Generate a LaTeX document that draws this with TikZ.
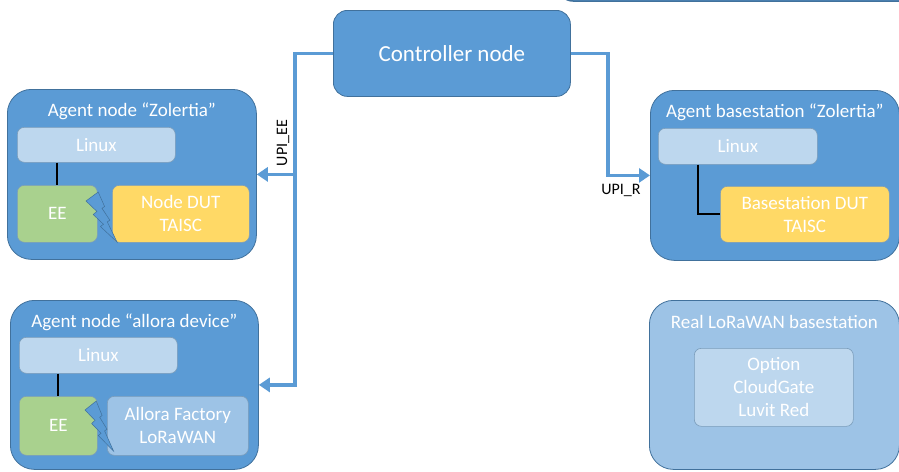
\documentclass[tikz,border=0pt]{standalone}
\usepackage{fontspec}
\setmainfont{Carlito}
\usetikzlibrary{arrows.meta,positioning}

\definecolor{boxblue}{HTML}{5B9BD5}
\definecolor{edgeblue}{HTML}{41719C}
\definecolor{paleblue}{HTML}{BDD7EE}
\definecolor{softblue}{HTML}{9DC3E6}
\definecolor{eegreen}{HTML}{A9D18E}
\definecolor{dutyellow}{HTML}{FFD966}

\tikzset{
  agentbox/.style={draw=edgeblue, line width=0.8pt, fill=boxblue, rounded corners=24pt,
    anchor=north west, inner sep=0pt},
  partbox/.style={draw=edgeblue!70, line width=0.6pt, rounded corners=7pt, anchor=north west,
    inner sep=0pt, text=white, align=center, font=\fontsize{19}{23}\selectfont},
  boxtitle/.style={text=white, inner sep=0pt, font=\fontsize{19}{23}\selectfont},
  upi/.style={line width=3.5pt, draw=boxblue},
  upiarrow/.style={upi, -{Triangle[length=11pt,width=14pt]}},
  wire/.style={line width=2.2pt, black},
  bolt/.style={draw=edgeblue, line width=0.5pt, fill=boxblue, line join=miter},
}

\newcommand\drawbolt[2]{%
  \begin{scope}[shift={#1}, xscale=#2]
    \draw[bolt] (12.2,0) -- (18.6,14.5) -- (16.0,16.3) -- (23.9,28.2) -- (21.3,29.9)
      -- (31,50) -- (14.4,34.5) -- (17.5,32.3) -- (7.2,22.5) -- (10.9,19.4) -- (0,9) -- cycle;
  \end{scope}}

\begin{document}
\begin{tikzpicture}[x=1pt, y=-1pt]
  \useasboundingbox (0,0) rectangle (899,471);

  % box cut off at the top edge
  \draw[draw=edgeblue, line width=1.5pt, fill=boxblue, rounded corners=15pt] (558,-80) rectangle (930,1);

  % controller
  \node[agentbox, rounded corners=14pt, minimum width=237pt, minimum height=86pt, text=white,
    font=\fontsize{23}{27}\selectfont] (ctrl) at (333,10) {Controller node};

  % agent node Zolertia
  \node[agentbox, minimum width=249pt, minimum height=170pt] (agZ) at (7,89) {};
  \node[boxtitle] (tZ) at ([yshift=-22pt]agZ.north) {Agent node “Zolertia"};
  \node[partbox, fill=paleblue, minimum width=158pt, minimum height=35pt] (linZ) at (17,127) {Linux};
  \node[partbox, fill=eegreen, minimum width=80pt, minimum height=57pt] (eeZ) at (17,185) {EE};
  \node[partbox, fill=dutyellow, minimum width=137pt, minimum height=57pt] (dutZ) at (112,185) {Node DUT\\TAISC};
  \draw[wire] (eeZ.north |- linZ.south) -- (eeZ.north);
  \drawbolt{(86,192)}{1}

  % agent node allora
  \node[agentbox, minimum width=248pt, minimum height=169pt] (agA) at (10,300) {};
  \node[boxtitle] (tA) at ([yshift=-22pt]agA.north) {Agent node “allora device"};
  \node[partbox, fill=paleblue, minimum width=158pt, minimum height=36pt] (linA) at (19,337) {Linux};
  \node[partbox, fill=eegreen, minimum width=78pt, minimum height=59pt] (eeA) at (19,396) {EE};
  \node[partbox, fill=softblue, minimum width=141pt, minimum height=59pt] (lorA) at (107,396) {Allora Factory\\LoRaWAN};
  \draw[wire] (eeA.north |- linA.south) -- (eeA.north);
  \drawbolt{(85,401)}{0.92}

  % agent basestation Zolertia
  \node[agentbox, minimum width=249pt, minimum height=170pt] (agB) at (650,90) {};
  \node[boxtitle] (tB) at ([yshift=-22pt]agB.north) {Agent basestation “Zolertia"};
  \node[partbox, fill=paleblue, minimum width=159pt, minimum height=36pt] (linB) at (658,128) {Linux};
  \node[partbox, fill=dutyellow, minimum width=169pt, minimum height=56pt] (dutB) at (720,186) {Basestation DUT\\TAISC};
  \draw[wire] ([xshift=-40pt]linB.south) |- (dutB.west);

  % real basestation
  \node[agentbox, fill=softblue, minimum width=250pt, minimum height=169pt] (realB) at (649,300) {};
  \node[boxtitle] (tR) at ([yshift=-22pt]realB.north) {Real LoRaWAN basestation};
  \node[partbox, fill=paleblue, minimum width=159pt, minimum height=78pt] (optR) at (694,348) {Option\\CloudGate\\Luvit Red};

  % UPI links
  \coordinate (lbus) at (295,0);
  \coordinate (rbus) at (608,0);
  \draw[upiarrow] (ctrl.west) -| (lbus |- agA.east) -- (agA.east);
  \draw[upiarrow] (lbus |- agZ.east) -- (agZ.east);
  \draw[upiarrow] (ctrl.east) -| (rbus |- agB.west) -- (agB.west);
  \node[rotate=90, font=\fontsize{16}{19}\selectfont, inner sep=0pt] (lblEE) at (283,143) {UPI\_EE};
  \node[font=\fontsize{16}{19}\selectfont, inner sep=0pt] (lblR) at (621,190) {UPI\_R};
\end{tikzpicture}
\end{document}
